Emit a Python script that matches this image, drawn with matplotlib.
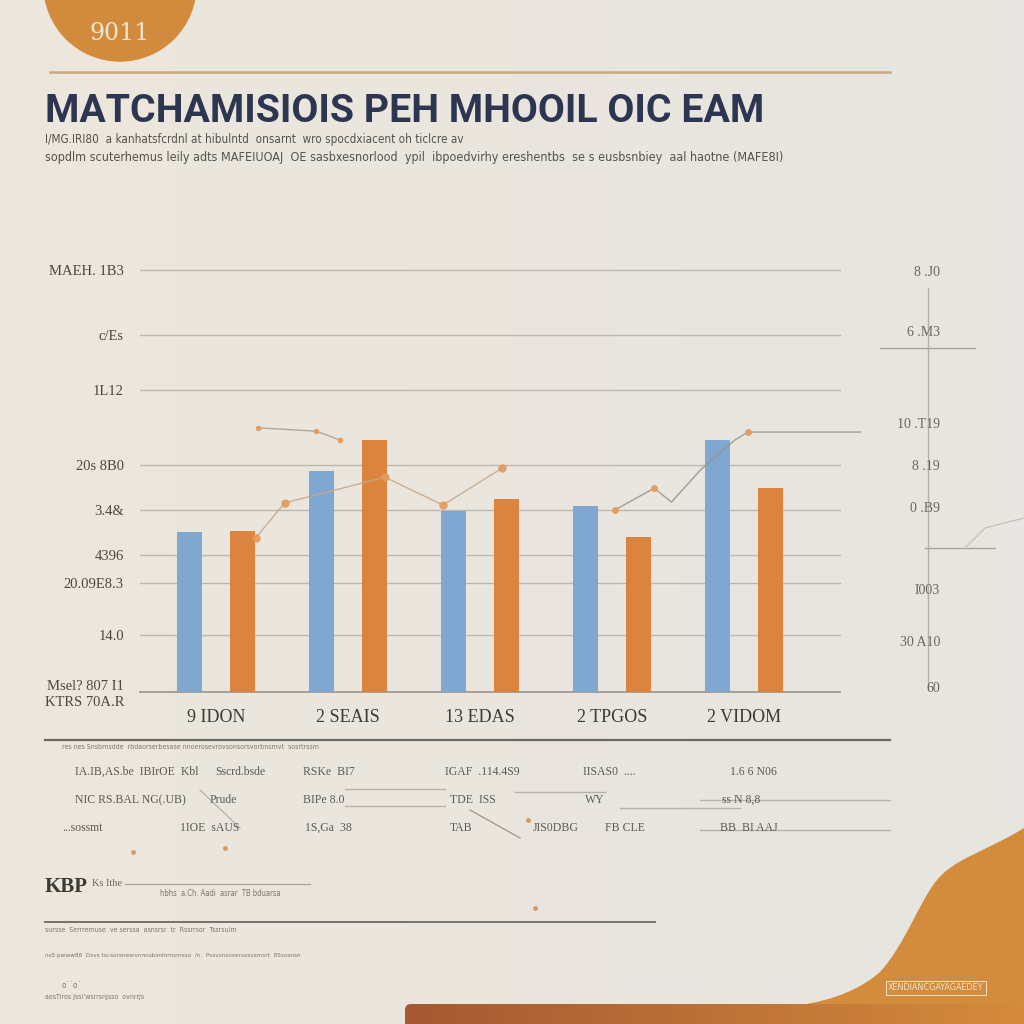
import numpy as np
import matplotlib
matplotlib.use("Agg")
import matplotlib.pyplot as plt
from matplotlib.patches import Circle, FancyBboxPatch
from matplotlib.path import Path
from matplotlib.patches import PathPatch

# ---------------- data ----------------
categories = ["9 IDON", "2 SEAIS", "13 EDAS", "2 TPGOS", "2 VIDOM"]
blue_values = [37.9, 52.4, 42.9, 44.1, 59.7]
orange_values = [38.2, 59.7, 45.7, 36.7, 48.3]

grid_values = [0, 13.5, 25.8, 32.5, 43.1, 53.8, 71.6, 84.6, 100]
left_tick_labels = ["Msel? 807 I1\nKTRS 70A.R", "14.0", "20.09E8.3", "4396",
                    "3.4&", "20s 8B0", "1L12", "c/Es", "MAEH. 1B3"]

trend_a_x = [0.30, 0.52, 1.28, 1.72, 2.17]
trend_a_y = [36.5, 44.8, 50.9, 44.3, 53.1]
trend_b_x = [3.02, 3.32, 3.45, 3.67, 3.93, 4.03, 4.88]
trend_b_y = [43.1, 48.3, 45.0, 52.6, 59.7, 61.6, 61.6]
trend_c_x = [0.32, 0.76, 0.94]
trend_c_y = [62.6, 61.8, 59.7]

right_labels = ["8 .J0", "6 .M3", "10 .T19", "8 .19", "0 .B9", "I003", "30 A10", "60"]
right_label_y = [272, 332, 424, 466, 509, 591, 643, 688]

title = "MATCHAMISIOIS PEH MHOOIL OIC EAM"
subtitle1 = "I/MG.IRI80  a kanhatsfcrdnl at hibulntd  onsarnt  wro spocdxiacent oh ticlcre av"
subtitle2 = "sopdlm scuterhemus leily adts MAFEIUOAJ  OE sasbxesnorlood  ypil  ibpoedvirhy ereshentbs  se s eusbsnbiey  aal haotne (MAFE8I)"

SERIF = dict(family="Liberation Serif")

# ---------------- figure ----------------
fig = plt.figure(figsize=(10.24, 10.24), dpi=100)
bg = fig.add_axes([0, 0, 1, 1])
bg.set_xlim(0, 1024)
bg.set_ylim(1024, 0)
bg.axis("off")

# background gradient
c1 = np.array([237, 231, 220]) / 255
c2 = np.array([231, 229, 225]) / 255
t = np.linspace(0, 1, 256)[None, :, None]
grad = c1 * (1 - t) + c2 * t
grad = np.repeat(grad, 2, axis=0)
bg.imshow(grad, extent=[0, 1024, 1024, 0], aspect="auto", zorder=0)

ORANGE = "#d28a3c"
NAVY = "#2d3650"

# top-left circle
bg.add_patch(Circle((120, -15), 76, color=ORANGE, zorder=1))
bg.text(120, 33, "9011", color="#f3e6d0", fontsize=17, ha="center", va="center",
        family="DejaVu Serif", zorder=2)

# top rule
bg.plot([50, 890], [72, 72], color="#c8a97e", lw=1.8, zorder=1)

# title / subtitle
bg.text(45, 111, title, color=NAVY, fontsize=28.3, fontweight="bold", family="Roboto",
        ha="left", va="center", zorder=2)
bg.text(45, 140, subtitle1, color="#55524d", fontsize=8.4, family="DejaVu Sans",
        fontstretch="condensed", ha="left", va="center")
bg.text(45, 157, subtitle2, color="#55524d", fontsize=9.0, family="DejaVu Sans",
        fontstretch="condensed", ha="left", va="center")

# bottom-right wave
wave_path = Path([(1024, 828), (985, 852), (955, 858), (937, 880),
                  (920, 900), (905, 945), (880, 972),
                  (862, 988), (835, 1000), (800, 1005),
                  (1024, 1024), (1024, 828)],
                 [Path.MOVETO, Path.CURVE4, Path.CURVE4, Path.CURVE4,
                  Path.CURVE4, Path.CURVE4, Path.CURVE4,
                  Path.CURVE4, Path.CURVE4, Path.CURVE4,
                  Path.LINETO, Path.CLOSEPOLY])
bg.add_patch(PathPatch(wave_path, facecolor="#d38b3c", edgecolor="none", zorder=1))

# bottom brown bar with gradient
bar_grad = np.linspace(0, 1, 256)[None, :, None]
cb1 = np.array([166, 88, 50]) / 255
cb2 = np.array([212, 139, 60]) / 255
bg_img = cb1 * (1 - bar_grad) + cb2 * bar_grad
bg_img = np.repeat(bg_img, 2, axis=0)
clipbox = FancyBboxPatch((405, 1004), 700, 40, boxstyle="round,pad=0,rounding_size=6",
                         facecolor="none", edgecolor="none", transform=bg.transData)
bg.add_patch(clipbox)
im = bg.imshow(bg_img, extent=[405, 1024, 1024, 1004], aspect="auto", zorder=2)
im.set_clip_path(clipbox)

bg.text(936, 988, "XENDIANCGAYAGAEDEY", color="#f3e3c8", fontsize=6.5,
        family="DejaVu Sans", fontstretch="condensed", ha="center", va="center", zorder=3,
        bbox=dict(boxstyle="square,pad=0.25", fc="none", ec="#f3e3c8", lw=0.7))

# right axis decorations
bg.plot([928, 928], [288, 690], color="#b6b1a8", lw=1, zorder=1)
bg.plot([880, 975], [348, 348], color="#a8a39a", lw=1, zorder=1)
bg.plot([925, 995], [548, 548], color="#a8a39a", lw=1, zorder=1)
bg.plot([965, 985, 1024], [548, 528, 518], color="#c9c4bb", lw=1, zorder=1)
for lab, yy in zip(right_labels, right_label_y):
    bg.text(940, yy, lab, color="#6a665f", fontsize=10, ha="right", va="center",
            zorder=2, **SERIF)

# ---------------- main chart ----------------
ax = fig.add_axes([160 / 1024, 1 - 692 / 1024, 680 / 1024, 422 / 1024])
ax.patch.set_alpha(0)
x = np.arange(len(categories))
ax.set_xlim(-0.424, 4.727)
ax.set_ylim(0, 100)

for v in grid_values:
    ax.axhline(v, xmin=-0.03, xmax=1.0, color="#bdb8af" if v else "#9e9a92",
               lw=1.0 if v else 1.3, zorder=1, clip_on=False)

ax.bar(x - 0.2, blue_values, width=0.19, color="#7fa7cf", zorder=3)
ax.bar(x + 0.2, orange_values, width=0.19, color="#db843f", zorder=3)

ax.plot(trend_a_x, trend_a_y, color="#c6a88c", lw=1, marker="o", ms=5,
        mfc="#e59a5a", mec="#e59a5a", zorder=4, alpha=0.9)
ax.plot(trend_b_x, trend_b_y, color="#9b948a", lw=1, marker="o", ms=4,
        mfc="#e59a5a", mec="#e59a5a", zorder=4, alpha=0.9, clip_on=False,
        markevery=[0, 1, 5])
ax.plot(trend_c_x, trend_c_y, color="#a8a198", lw=1, marker="o", ms=3,
        mfc="#e59a5a", mec="#e59a5a", zorder=4, alpha=0.9)

ax.set_yticks(grid_values)
ax.set_yticklabels(left_tick_labels, fontsize=10.5, color="#4a4742", **SERIF)
ax.tick_params(axis="y", length=0, pad=26)
ax.set_xticks(x)
ax.set_xticklabels(categories, fontsize=13, color="#3e3b37", **SERIF)
ax.tick_params(axis="x", length=0, pad=12)
for s in ax.spines.values():
    s.set_visible(False)

# ---------------- lower notes ----------------
bg.plot([45, 890], [740, 740], color="#6c6862", lw=1.6, zorder=1)
small = dict(color="#7b776f", family="DejaVu Sans", fontstretch="condensed",
             va="center", zorder=2)
bg.text(62, 747, "res nes Snsbmsdde  rbdaorserbesase nnoerosevrovsonsorsvorbnsmvt  sosrtrssm",
        fontsize=5, **small)

rows = [
    (772, [(75, "IA.IB,AS.be  IBIrOE  Kbl"), (215, "Sscrd.bsde"), (303, "RSKe  BI7"),
           (445, "IGAF  .114.4S9"), (583, "IISAS0  ...."), (730, "1.6 6 N06")]),
    (800, [(75, "NIC RS.BAL NG(.UB)"), (210, "Prude"), (303, "BIPe 8.0"),
           (450, "TDE  ISS"), (585, "WY"), (722, "ss N 8,8")]),
    (828, [(62, "...sossmt"), (180, "1IOE  sAUS"), (305, "1S,Ga  38"),
           (450, "TAB"), (533, "JIS0DBG"), (605, "FB CLE"), (720, "BB  BI AAJ")]),
]
for yy, items in rows:
    for xx, s in items:
        bg.text(xx, yy, s, fontsize=8.5, color="#5c5953", va="center", zorder=2, **SERIF)

for (xa, xb, yy) in [(345, 445, 789), (515, 605, 792), (345, 445, 806),
                     (620, 740, 808), (700, 890, 800), (700, 890, 830)]:
    bg.plot([xa, xb], [yy, yy], color="#b8b3aa", lw=1, zorder=1)
bg.plot([470, 520], [810, 838], color="#9a958c", lw=0.9, zorder=1)
bg.plot([200, 240], [790, 828], color="#b0aba2", lw=0.8, zorder=1)

bg.text(45, 887, "KBP", fontsize=15, fontweight="bold", color="#3d3a36",
        va="center", zorder=2, **SERIF)
bg.text(92, 884, "Ks Ithe", fontsize=7.5, color="#6a665f", va="center", zorder=2, **SERIF)
bg.plot([125, 310], [884, 884], color="#aaa59c", lw=0.9, zorder=1)
bg.text(160, 894, "hbhs  a.Ch. Aadi  asrar  TB bduarsa", fontsize=5.5, **small)
bg.plot([45, 655], [922, 922], color="#6c6862", lw=1.3, zorder=1)
bg.text(45, 930, "sursse  Serrremuse  ve serssa  asnsrsr  tr  Rssrrsor  Tssrsulm", fontsize=5, **small)
bg.text(45, 956, "ns5 pwww88  Dsvs tscsorsnesrvnnnsbsnlnrnsmsso  /n.  Pssvsnsnsersosvsmsrt  8Ssosnsn", fontsize=4.6, **small)
bg.text(45, 997, "aosTiros Jssi'wsrrsnJsso  ovnrrJs", fontsize=5, **small)
bg.text(62, 985, "o\u02d9\u02d9o\u02d9", fontsize=6, **small)

# orange specks
for (px, py) in [(133, 852), (225, 848), (528, 820), (535, 908)]:
    bg.plot(px, py, marker="o", ms=2.5, color="#d99a60", zorder=2)

fig.savefig("out.png", dpi=100)
